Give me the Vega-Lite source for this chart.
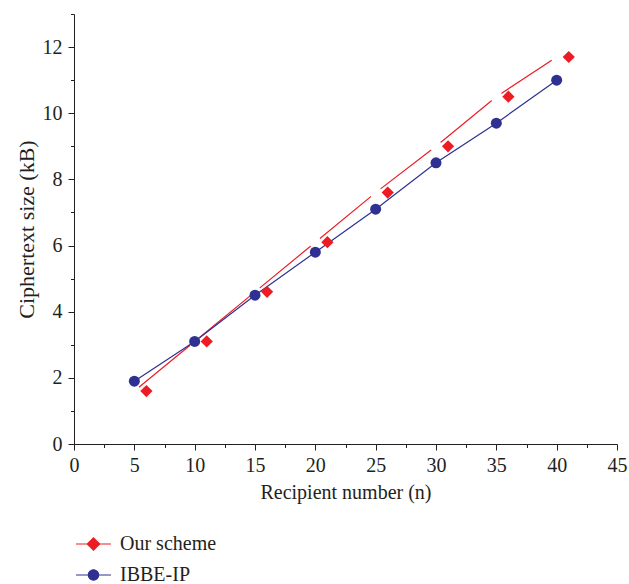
{
  "$schema": "https://vega.github.io/schema/vega-lite/v6.json",
  "width": 543,
  "height": 430,
  "autosize": "none",
  "padding": {"left": 74, "top": 14, "right": 12, "bottom": 140},
  "background": "white",
  "config": {
    "view": {"stroke": null},
    "font": "Liberation Serif",
    "axis": {
      "grid": false,
      "domainColor": "#231F20",
      "domainWidth": 1,
      "tickColor": "#231F20",
      "tickWidth": 1,
      "labelColor": "#231F20",
      "titleColor": "#231F20",
      "labelFont": "Liberation Serif",
      "titleFont": "Liberation Serif",
      "labelFontSize": 20,
      "titleFontSize": 20,
      "titleFontWeight": "normal"
    }
  },
  "datasets": {
    "ourLine": [
      {"series": "Our scheme", "n": 5, "kb": 1.6},
      {"series": "Our scheme", "n": 10, "kb": 3.1},
      {"series": "Our scheme", "n": 15, "kb": 4.6},
      {"series": "Our scheme", "n": 20, "kb": 6.1},
      {"series": "Our scheme", "n": 25, "kb": 7.6},
      {"series": "Our scheme", "n": 30, "kb": 9.0},
      {"series": "Our scheme", "n": 35, "kb": 10.5},
      {"series": "Our scheme", "n": 40, "kb": 11.7}
    ],
    "ourMarkers": [
      {"series": "Our scheme", "n": 6, "kb": 1.6},
      {"series": "Our scheme", "n": 11, "kb": 3.1},
      {"series": "Our scheme", "n": 16, "kb": 4.6},
      {"series": "Our scheme", "n": 21, "kb": 6.1},
      {"series": "Our scheme", "n": 26, "kb": 7.6},
      {"series": "Our scheme", "n": 31, "kb": 9.0},
      {"series": "Our scheme", "n": 36, "kb": 10.5},
      {"series": "Our scheme", "n": 41, "kb": 11.7}
    ],
    "ibbe": [
      {"series": "IBBE-IP", "n": 5, "kb": 1.9},
      {"series": "IBBE-IP", "n": 10, "kb": 3.1},
      {"series": "IBBE-IP", "n": 15, "kb": 4.5},
      {"series": "IBBE-IP", "n": 20, "kb": 5.8},
      {"series": "IBBE-IP", "n": 25, "kb": 7.1},
      {"series": "IBBE-IP", "n": 30, "kb": 8.5},
      {"series": "IBBE-IP", "n": 35, "kb": 9.7},
      {"series": "IBBE-IP", "n": 40, "kb": 11.0}
    ]
  },
  "encoding": {
    "x": {
      "field": "n",
      "type": "quantitative",
      "scale": {"domain": [0, 45], "nice": false, "zero": false},
      "axis": {
        "title": "Recipient number (n)",
        "values": [0, 2.5, 5, 7.5, 10, 12.5, 15, 17.5, 20, 22.5, 25, 27.5, 30, 32.5, 35, 37.5, 40, 42.5, 45],
        "labelExpr": "datum.value % 5 === 0 ? datum.label : ''",
        "tickSize": {"condition": {"test": "datum.value % 5 !== 0", "value": 3.5}, "value": 6},
        "labelPadding": 5,
        "titlePadding": 7,
        "labelFlush": false,
        "labelOverlap": false
      }
    },
    "y": {
      "field": "kb",
      "type": "quantitative",
      "scale": {"domain": [0, 13], "nice": false},
      "axis": {
        "title": "Ciphertext size (kB)",
        "titleFontSize": 22,
        "values": [0, 1, 2, 3, 4, 5, 6, 7, 8, 9, 10, 11, 12, 13],
        "labelExpr": "datum.value % 2 === 0 ? datum.label : ''",
        "tickSize": {"condition": {"test": "datum.value % 2 !== 0", "value": 3.5}, "value": 6},
        "labelPadding": 6,
        "titlePadding": 4,
        "labelFlush": false,
        "labelOverlap": false
      }
    }
  },
  "layer": [
    {
      "data": {"name": "ourLine"},
      "mark": {"type": "line", "strokeWidth": 1.2},
      "encoding": {
        "color": {
          "field": "series",
          "type": "nominal",
          "scale": {"domain": ["Our scheme", "IBBE-IP"], "range": ["#ED1C24", "#2E3192"]},
          "legend": {
            "title": null,
            "orient": "none",
            "legendX": 8.5,
            "legendY": 519,
            "direction": "vertical",
            "padding": 0,
            "symbolSize": 400,
            "labelOffset": 15.5,
            "rowPadding": 10,
            "labelFont": "Liberation Serif",
            "labelFontSize": 20,
            "labelColor": "#231F20",
            "labelLimit": 300,
            "encode": {
              "symbols": {
                "update": {
                  "shape": {"signal": "datum.value === 'Our scheme' ? 'M-1.75,0L1.75,0M0,-0.62L0.62,0L0,0.62L-0.62,0Z' : 'M-1.75,0L1.75,0M-0.52,0A0.52,0.52,0,1,1,0.52,0A0.52,0.52,0,1,1,-0.52,0Z'"},
                  "fill": {"signal": "datum.value === 'Our scheme' ? '#ED1C24' : '#2E3192'"},
                  "stroke": {"signal": "datum.value === 'Our scheme' ? '#ED1C24' : '#2E3192'"},
                  "strokeWidth": {"value": 1.2},
                  "fillOpacity": {"value": 1},
                  "opacity": {"value": 1}
                }
              }
            }
          }
        }
      }
    },
    {
      "data": {"name": "ourLine"},
      "mark": {"type": "point", "filled": true, "shape": "circle", "size": 150, "color": "white", "opacity": 1}
    },
    {
      "data": {"name": "ibbe"},
      "mark": {"type": "line", "strokeWidth": 1.2},
      "encoding": {"color": {"field": "series", "type": "nominal"}}
    },
    {
      "data": {"name": "ibbe"},
      "mark": {"type": "point", "filled": true, "shape": "circle", "size": 121, "opacity": 1},
      "encoding": {"color": {"field": "series", "type": "nominal"}}
    },
    {
      "data": {"name": "ourMarkers"},
      "mark": {"type": "point", "filled": true, "shape": "diamond", "size": 150, "opacity": 1},
      "encoding": {"color": {"field": "series", "type": "nominal"}}
    }
  ]
}
